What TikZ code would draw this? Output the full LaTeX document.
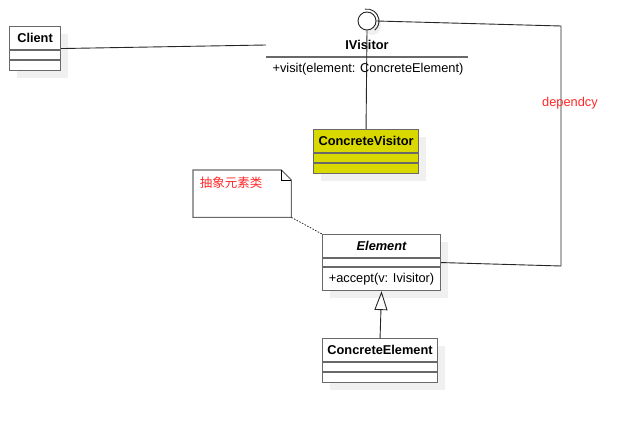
\documentclass[tikz,border=0pt]{standalone}
\usepackage{fontspec}
\setmainfont{Liberation Sans}
\newfontfamily\cjk{Noto Sans CJK SC}
\usetikzlibrary{arrows.meta,shadows}

\definecolor{visitoryellow}{RGB}{217,217,0}
\definecolor{notered}{RGB}{255,40,40}
\definecolor{boxgray}{RGB}{105,105,105}
\definecolor{shadowgray}{RGB}{240,240,240}

\tikzset{
    txt/.style={font=\fontsize{12.8}{15}\selectfont},
    title/.style={font=\fontsize{12.8}{15}\selectfont\bfseries},
    classbox/.style={draw=boxgray, line width=1.1pt, inner sep=0pt, anchor=north west,
        drop shadow={shadow xshift=7pt, shadow yshift=-7pt, fill=shadowgray, opacity=1}},
    link/.style={draw=black!85, line width=0.9pt}
}

\begin{document}
\begin{tikzpicture}[x=1pt, y=-1pt]
\useasboundingbox (0,0) rectangle (643,422);

            % classes with an empty attribute and method part
            \foreach \name/\x/\y/\w/\txt/\col in {client/9/26/51/Client/white, cvisitor/313/129/105/ConcreteVisitor/visitoryellow, celement/322/338/115/ConcreteElement/white} {
                    \node[classbox, fill=\col, minimum width=\w pt, minimum height=44pt] (\name) at (\x,\y) {};
                    \node[title] at ([yshift=-12pt]\name.north) {\txt};
                    \draw[boxgray, line width=1.1pt] ([yshift=-24pt]\name.north west) -- ([yshift=-24pt]\name.north east);
                    \draw[boxgray, line width=1.1pt] ([yshift=-34pt]\name.north west) -- ([yshift=-34pt]\name.north east);
                }

            % abstract element
            \node[classbox, fill=white, minimum width=118pt, minimum height=56pt] (element) at (322,234) {};
            \node[font=\fontsize{12.8}{15}\selectfont\bfseries\itshape] at ([yshift=-12pt]element.north) {Element};
            \draw[boxgray, line width=1.1pt] ([yshift=-24pt]element.north west) -- ([yshift=-24pt]element.north east);
            \draw[boxgray, line width=1.1pt] ([yshift=-33pt]element.north west) -- ([yshift=-33pt]element.north east);
            \node[txt] (accept) at ([yshift=-45pt]element.north) {+accept(v: Ivisitor)};

            % interface
            \node[title, text width=202pt, align=center, inner sep=0pt] (ivisitor) at (367,45) {IVisitor};
            \draw[boxgray, line width=1.6pt] ([yshift=-12pt]ivisitor.west) -- ([yshift=-12pt]ivisitor.east);
            \node[txt] (visit) at (368,69) {+visit(element: ConcreteElement)};

            \node[circle, draw=black!85, fill=white, line width=0.9pt, minimum size=18pt, inner sep=0pt,
                drop shadow={shadow xshift=5pt, shadow yshift=-5pt, fill=shadowgray, opacity=1}] (lolli) at (367,21) {};
            \draw[black!85, line width=0.9pt] ([shift={(100:12pt)}]lolli.center) arc[start angle=100, end angle=-50, radius=12pt];

            % note
            \node[minimum width=98pt, minimum height=47pt, inner sep=0pt, anchor=north west] (note) at (193,170) {};
            \draw[boxgray, line width=1.1pt] (note.north west) -- ([xshift=-10pt]note.north east) -- ([yshift=-10pt]note.north east) -- (note.south east) -- (note.south west) -- cycle;
            \draw[black, line width=0.8pt] ([xshift=-10pt]note.north east) -- ([xshift=-10pt, yshift=-10pt]note.north east) -- ([yshift=-10pt]note.north east);
            \node[font=\fontsize{12.5}{15}\selectfont\cjk, text=notered] (notetext) at (231,183) {抽象元素类};

            % connectors
            \coordinate (deptop) at (561,26);
            \coordinate (depbot) at (561,266);
            \draw[link] (client.east) -- (ivisitor.west);
            \draw[link] (lolli.south) -- (cvisitor.north);
            \draw[link] (lolli.east) -- (deptop) -- (depbot) -- (element.east);
            \node[txt, text=notered] (dep) at (570,103) {dependcy};
            \draw[black!85, line width=0.8pt, dash pattern=on 1.5pt off 1.5pt] (note.south east) -- (element.north west);
            \draw[link, -{Triangle[open, length=19pt, width=13pt]}] (celement.north) -- (element.south);
        \end{tikzpicture}
\end{document}
